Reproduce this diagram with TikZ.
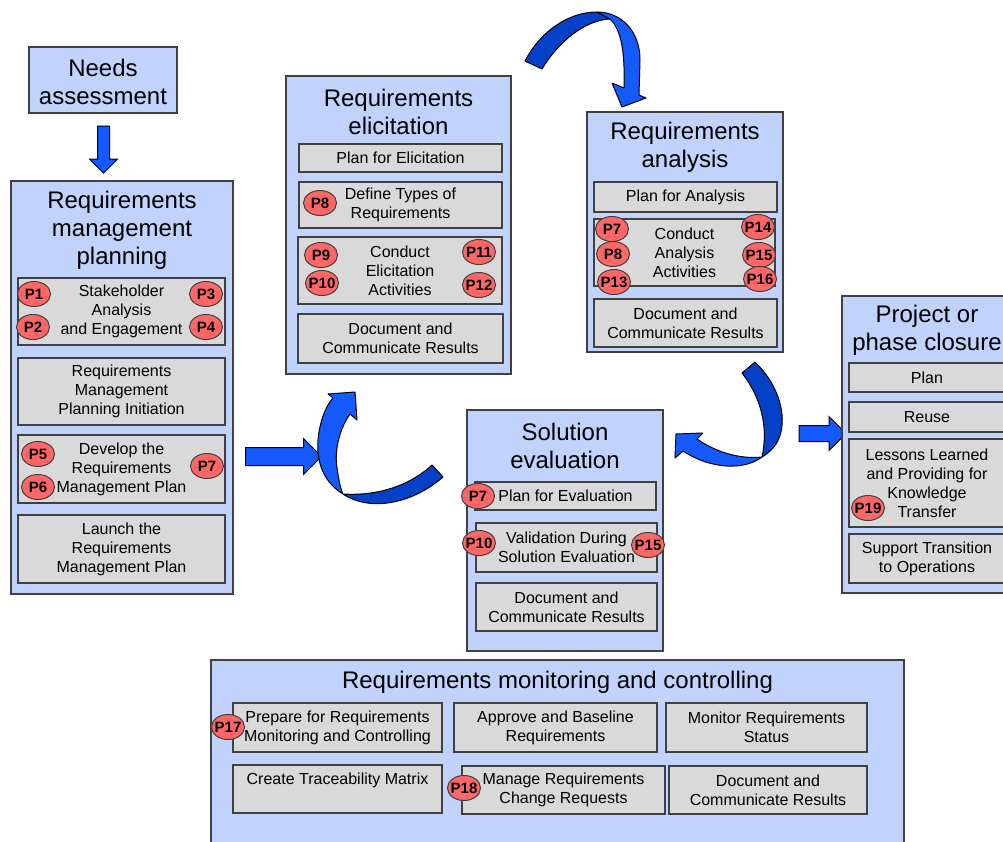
\documentclass[tikz,border=0pt]{standalone}
\usepackage{fontspec}
\setmainfont{Liberation Sans}
\usetikzlibrary{shapes.geometric,shapes.arrows,positioning}
\definecolor{phaseblue}{RGB}{193,211,252}
\definecolor{taskgray}{RGB}{217,217,217}
\definecolor{framegray}{RGB}{64,64,64}
\definecolor{badgered}{RGB}{255,102,102}
\definecolor{arrowblue}{RGB}{20,90,255}
\definecolor{arrowdark}{RGB}{5,65,200}

\begin{document}
\begin{tikzpicture}[x=0.5pt,y=-0.5pt]
 \useasboundingbox (0,0) rectangle (1003,842);
 \fill[white] (0,0) rectangle (1003,842);
 \clip (0,0) rectangle (1003,842);

\tikzstyle{phase}=[draw=framegray,line width=0.75pt,fill=phaseblue,inner sep=0pt,outer sep=0pt]
\tikzstyle{heading}=[align=center,font=\fontsize{12}{14}\selectfont]
\tikzstyle{task}=[draw=framegray,line width=0.75pt,fill=taskgray,inner sep=0pt,align=center,font=\fontsize{8}{9.5}\selectfont]
\tikzstyle{badge}=[ellipse,draw=framegray,line width=0.5pt,fill=badgered,inner xsep=-2pt,inner ysep=0pt,minimum width=16.5pt,minimum height=12.5pt,font=\fontsize{7.5}{8}\selectfont\bfseries]
\tikzstyle{blockarrow}=[single arrow,draw=black,line width=0.5pt,fill=arrowblue,single arrow tip angle=90]
\tikzstyle{curvefront}=[fill=arrowblue,draw=black,line width=0.5pt,line join=round]
\tikzstyle{curveback}=[fill=arrowdark,draw=black,line width=0.5pt,line join=round]

   %needs assessment
    \node (needs) [phase,minimum width=74pt,minimum height=33pt] at (103,80) {};
    \node (needstitle) [heading] at (103,82) {Needs\\assessment};
    \node (arrdown) [blockarrow,shape border rotate=270,minimum height=23.5pt,inner sep=2.75pt,single arrow head extend=4pt] at (103.5,146.5) {};

   %requirements management planning
    \node (plan) [phase,minimum width=111pt,minimum height=206.5pt] at (122,387.5) {};
    \node (plantitle) [heading] at (122,230.5) {Requirements\\management\\planning};
    \node (stake) [task,minimum width=103.5pt,minimum height=33.5pt] at (121.5,311.5) {Stakeholder\\Analysis\\and Engagement};
    \node (initiation) [task,minimum width=103.5pt,minimum height=33.5pt] at (121.5,391.5) {Requirements\\Management\\Planning Initiation};
    \node (develop) [task,minimum width=103.5pt,minimum height=34pt] at (121.5,469) {Develop the\\Requirements\\Management Plan};
    \node (launch) [task,minimum width=103.5pt,minimum height=34pt] at (121.5,549) {Launch the\\Requirements\\Management Plan};
    \node (p1) [badge] at (34,294) {P1};
    \node (p3) [badge] at (206,294) {P3};
    \node (p2) [badge] at (33,327) {P2};
    \node (p4) [badge] at (206,327) {P4};
    \node (p5) [badge] at (38,454) {P5};
    \node (p6) [badge] at (38,487) {P6};
    \node (p7a) [badge] at (207,466) {P7};

    \node (arrplan) [blockarrow,minimum height=38pt,inner sep=4.25pt,single arrow head extend=4.5pt] at (279,456.5) {};

   %requirements elicitation
    \node (elic) [phase,minimum width=112.5pt,minimum height=149pt] at (398.5,225) {};
    \node (elictitle) [heading] at (398.5,112) {Requirements\\elicitation};
    \node (planelic) [task,minimum width=101.5pt,minimum height=14pt] at (400.5,158) {Plan for Elicitation};
    \node (types) [task,minimum width=101.5pt,minimum height=23pt] at (400.5,205) {Define Types of\\Requirements};
    \node (condelic) [task,minimum width=102pt,minimum height=33.5pt] at (400,270.5) {Conduct\\Elicitation\\Activities};
    \node (docelic) [task,minimum width=102.5pt,minimum height=24.5pt] at (400.5,338.5) {Document and\\Communicate Results};
    \node (p8a) [badge] at (320,203) {P8};
    \node (p9) [badge] at (321,255) {P9};
    \node (p10a) [badge] at (322,283) {P10};
    \node (p11) [badge] at (479,252) {P11};
    \node (p12) [badge] at (479,285) {P12};

   %requirements analysis
    \node (anal) [phase,minimum width=98pt,minimum height=120pt] at (685,232) {};
    \node (analtitle) [heading] at (685,147.5) {Requirements\\analysis};
    \node (plananal) [task,minimum width=91.5pt,minimum height=15pt] at (685.5,197) {Plan for Analysis};
    \node (condanal) [task,minimum width=90.5pt,minimum height=33.5pt] at (684.5,252.5) {Conduct\\Analysis\\Activities};
    \node (docanal) [task,minimum width=91.5pt,minimum height=24pt] at (685.5,323) {Document and\\Communicate Results};
    \node (p7b) [badge] at (612,229) {P7};
    \node (p8b) [badge] at (613,254) {P8};
    \node (p13) [badge] at (614,282) {P13};
    \node (p14) [badge] at (758,227) {P14};
    \node (p15a) [badge] at (759,255) {P15};
    \node (p16) [badge] at (760,279) {P16};

   %solution evaluation
    \node (eval) [phase,minimum width=98pt,minimum height=120.5pt] at (565,530.5) {};
    \node (evaltitle) [heading] at (565,446) {Solution\\evaluation};
    \node (planeval) [task,minimum width=90.5pt,minimum height=14pt] at (565.5,496) {Plan for Evaluation};
    \node (valid) [task,minimum width=90.5pt,minimum height=24.5pt] at (566.5,547.5) {Validation During\\Solution Evaluation};
    \node (doceval) [task,minimum width=90.5pt,minimum height=24pt] at (566.5,607) {Document and\\Communicate Results};
    \node (p7c) [badge] at (478,496) {P7};
    \node (p10b) [badge] at (479,543) {P10};
    \node (p15b) [badge] at (648,545) {P15};

   %project or phase closure
    \node (arrclose) [blockarrow,minimum height=23.5pt,inner sep=3.75pt,single arrow head extend=4.5pt] at (818.5,433.5) {};
    \node (close) [phase,minimum width=85pt,minimum height=148.5pt] at (927,444.5) {};
    \node (closetitle) [heading] at (927,330.5) {Project or\\phase closure};
    \node (closeplan) [task,minimum width=78pt,minimum height=14.5pt] at (927,377.5) {Plan};
    \node (reuse) [task,minimum width=78pt,minimum height=15pt] at (927,417) {Reuse};
    \node (lessons) [task,minimum width=78pt,minimum height=44pt] at (927,483) {Lessons Learned\\and Providing for\\Knowledge\\Transfer};
    \node (support) [task,minimum width=78pt,minimum height=24.5pt] at (927,558.5) {Support Transition\\to Operations};
    \node (p19) [badge] at (868,508) {P19};

   %requirements monitoring and controlling
    \node (monit) [phase,minimum width=346.5pt,minimum height=95pt] at (557.5,755) {};
    \node (monittitle) [heading] at (557.5,682.5) {Requirements monitoring and controlling};
    \node (prep) [task,minimum width=104.5pt,minimum height=24.5pt] at (337.5,727.5) {Prepare for Requirements\\Monitoring and Controlling};
    \node (approve) [task,minimum width=101.5pt,minimum height=24.5pt] at (555.5,727.5) {Approve and Baseline\\Requirements};
    \node (monitor) [task,minimum width=100.5pt,minimum height=24.5pt] at (766.5,727.5) {Monitor Requirements\\Status};
    \node (trace) [task,minimum width=104.5pt,minimum height=24pt,text height=6pt,text depth=11pt] at (337.5,789) {Create Traceability Matrix};
    \node (manage) [task,minimum width=101.5pt,minimum height=24pt] at (563.5,790) {Manage Requirements\\Change Requests};
    \node (docmon) [task,minimum width=99pt,minimum height=24pt] at (768,790) {Document and\\Communicate Results};
    \node (p17) [badge] at (228,727) {P17};
    \node (p18) [badge] at (464,788) {P18};

   %curved arrows
    \filldraw[curveback] (525,61) .. controls (540,32) and (568,12) .. (597,12) -- (610,19) .. controls (585,20) and (558,42) .. (542,69) -- cycle;
    \filldraw[curvefront] (597,12) .. controls (622,12) and (640,32) .. (640,60) -- (639,95) -- (646,98) -- (622,107) -- (612,83) -- (624,88) .. controls (625,55) and (622,30) .. (610,19) -- cycle;

    \filldraw[curvefront] (343,494) .. controls (320,480) and (315,455) .. (319,432) .. controls (322,415) and (327,405) .. (333,398) -- (328,394) -- (355,392) -- (357,420) -- (350,414) .. controls (340,428) and (334,450) .. (337,468) .. controls (339,482) and (341,490) .. (343,494) -- cycle;
    \filldraw[curveback] (343,494) .. controls (370,512) and (412,504) .. (443,477) -- (432,465) .. controls (408,487) and (376,496) .. (343,494) -- cycle;

    \filldraw[curveback] (755,362) .. controls (776,382) and (786,410) .. (781,432) .. controls (778,445) and (770,452) .. (762,457) .. controls (768,430) and (763,400) .. (742,373) -- cycle;
    \filldraw[curvefront] (762,457) .. controls (745,470) and (712,470) .. (683,451) -- (675,458) -- (676,434) -- (703,433) -- (697,439) .. controls (720,455) and (745,459) .. (762,457) -- cycle;

\end{tikzpicture}
\end{document}
